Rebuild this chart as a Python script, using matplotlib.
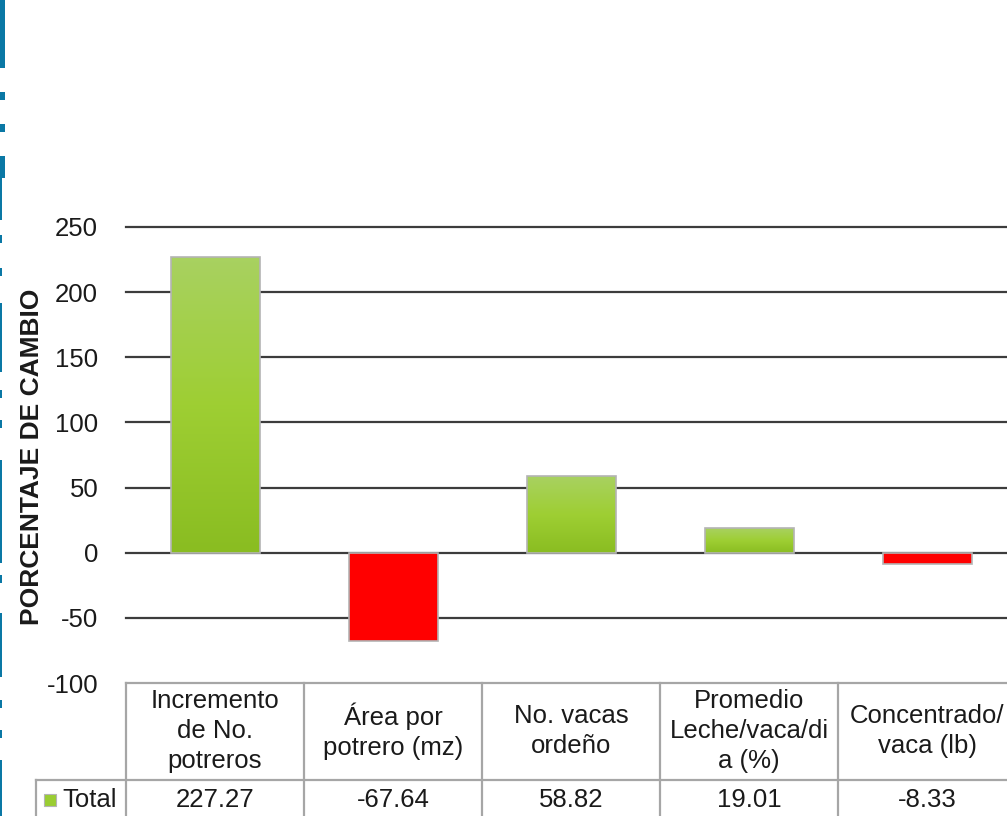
import numpy as np
import matplotlib
matplotlib.use("Agg")
import matplotlib.pyplot as plt
from matplotlib.patches import Rectangle

plt.rcParams['font.family'] = ['Liberation Sans', 'DejaVu Sans']

# data
categories = ["Incremento\nde No.\npotreros", "Área por\npotrero (mz)", "No. vacas\nordeño",
              "Promedio\nLeche/vaca/di\na (%)", "Concentrado/\nvaca (lb)"]
values = [227.27, -67.64, 58.82, 19.01, -8.33]
value_labels = ["227.27", "-67.64", "58.82", "19.01", "-8.33"]
series_name = "Total"
yticks = [-100, -50, 0, 50, 100, 150, 200, 250]

W, H = 1007, 816
fig = plt.figure(figsize=(W / 100, H / 100), dpi=100, facecolor='white')

# main plot area (pixel layout: x 126..1016, y 227..683)
ax = fig.add_axes([126 / W, 1 - 683 / H, 890 / W, 456 / H])
ax.set_xlim(-0.5, len(values) - 0.5)
ax.set_ylim(-100, 250)
for s in ax.spines.values():
    s.set_visible(False)
ax.set_xticks([])
ax.set_yticks(yticks)
ax.set_yticklabels([str(t) for t in yticks], fontsize=18.5, color='#1a1a1a')
ax.tick_params(axis='y', length=0, pad=20)
for t in yticks[1:]:
    ax.axhline(t, color='#3c3c3c', lw=1.6, zorder=1, clip_on=False)

# green gradient used for positive bars
grad = np.linspace(0, 1, 256)
top_c = np.array([0.66, 0.82, 0.38])
mid_c = np.array([0.62, 0.81, 0.20])
bot_c = np.array([0.54, 0.74, 0.13])
img = np.zeros((256, 1, 3))
for i, g in enumerate(grad):
    if g < 0.5:
        img[i, 0] = bot_c + (mid_c - bot_c) * (g / 0.5)
    else:
        img[i, 0] = mid_c + (top_c - mid_c) * ((g - 0.5) / 0.5)

bw = 0.5
for i, v in enumerate(values):
    if v >= 0:
        r = Rectangle((i - bw / 2, 0), bw, v, facecolor='none', edgecolor='#b4b4b4', lw=1.2, zorder=4)
        ax.add_patch(r)
        im = ax.imshow(img, extent=(i - bw / 2, i + bw / 2, 0, v), origin='lower',
                       aspect='auto', zorder=3, interpolation='bilinear')
        im.set_clip_path(r)
    else:
        ax.bar(i, v, width=bw, color='#ff0000', edgecolor='#b4b4b4', lw=1.2, zorder=3)
ax.set_xlim(-0.5, len(values) - 0.5)
ax.set_ylim(-100, 250)

fig.text(32 / W, 1 - 457 / H, "PORCENTAJE DE CAMBIO", rotation=90, fontsize=19,
         fontweight='bold', color='#1a1a1a', ha='center', va='center')

# data table under the plot
tab = fig.add_axes([126 / W, 0, 890 / W, 133 / H])
tab.set_xlim(-0.5, len(values) - 0.5)
tab.set_ylim(133, 0)
tab.axis('off')
lc = '#a6a6a6'
xl = -0.5 - 90 / 178  # row label cell left edge
tab.plot([-0.5, len(values) - 0.5], [0, 0], color=lc, lw=1.6, clip_on=False)
tab.plot([xl, len(values) - 0.5], [97, 97], color=lc, lw=1.6, clip_on=False)
for k in range(len(values) + 1):
    tab.plot([k - 0.5, k - 0.5], [0, 140], color=lc, lw=1.6, clip_on=False)
tab.plot([xl, xl], [97, 140], color=lc, lw=1.6, clip_on=False)
for i, (c, vl) in enumerate(zip(categories, value_labels)):
    tab.text(i, 48, c, ha='center', va='center', fontsize=18.5, color='#1a1a1a',
             linespacing=1.3, clip_on=False)
    tab.text(i, 117, vl, ha='center', va='center', fontsize=18.5, color='#1a1a1a', clip_on=False)
tab.add_patch(Rectangle((xl + 8 / 178, 111), 12 / 178, 12, facecolor='#9acd32',
                        edgecolor='#b4b4b4', lw=0.8, clip_on=False))
tab.text(xl + 26 / 178, 117, series_name, ha='left', va='center', fontsize=18.5,
         color='#1a1a1a', clip_on=False)

# blue dashed decoration on the left edge (pixel coords)
deco = fig.add_axes([0, 0, 1, 1], zorder=-1)
deco.set_xlim(0, W)
deco.set_ylim(H, 0)
deco.axis('off')
segs = [(0, 68, 5), (92, 100, 5), (124, 132, 5), (156, 178, 5), (178, 220, 2),
        (235, 243, 2), (268, 276, 2), (303, 372, 2), (390, 398, 2), (420, 428, 2),
        (460, 563, 2), (575, 583, 2), (613, 677, 2), (700, 708, 2),
        (730, 738, 2), (760, 816, 2)]
for y0, y1, w in segs:
    deco.add_patch(Rectangle((0, y0), w, y1 - y0, facecolor='#0a78a5', edgecolor='none'))

fig.savefig("out.png", dpi=100, facecolor='white')
